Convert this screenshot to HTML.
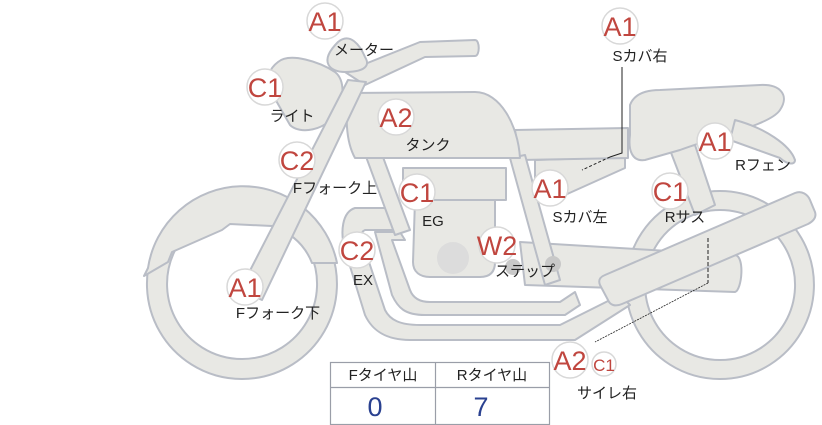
<!DOCTYPE html>
<html><head><meta charset="utf-8"><style>
html,body{margin:0;padding:0;background:#fff;}
svg{display:block;}
.p{fill:#e8e8e4;stroke:#b9bdc6;stroke-width:2;stroke-linejoin:round;}
.b{fill:#fff;stroke:#d8d8d8;stroke-width:1.5;}
.bt{font-family:"Liberation Sans",sans-serif;font-size:27px;fill:#c0463f;text-anchor:middle;}
.l{font-family:"Liberation Sans","Noto Sans CJK JP",sans-serif;font-size:15px;fill:#222;text-anchor:middle;}
</style></head><body>
<svg width="822" height="425" viewBox="0 0 822 425" xmlns="http://www.w3.org/2000/svg">
<!-- front wheel -->
<path class="p" fill-rule="evenodd" d="M242,189 A95,95 0 1 1 241.9,189 Z M242,209 A75,75 0 1 0 242.1,209 Z"/>
<path class="p" d="M144,276 L148,268 A96,96 0 0 1 337,263 L312,263 C305,245 292,233 272,226 L230,224 L222,230 L172,252 L168,262 Z"/>
<!-- rear wheel -->
<path class="p" fill-rule="evenodd" d="M720,191 A94,94 0 1 1 719.9,191 Z M720,210 A75,75 0 1 0 720.1,210 Z"/>
<!-- exhaust pipes -->
<path class="p" d="M355,208 L400,208 L400,230 L365,230 C360,232 360,240 365,250 L385,310 C390,320 400,325 420,325 L560,325 L620,295 L630,305 L575,340 L410,340 C385,340 372,330 365,315 L345,250 C340,232 342,212 355,208 Z"/>
<path class="p" d="M375,232 L400,232 L405,240 L392,240 L410,290 C413,298 420,302 430,302 L560,302 L575,292 L580,305 L565,315 L425,315 C405,315 398,308 392,295 Z"/>
<!-- swingarm -->
<path class="p" d="M520,242 L735,255 C745,256 742,290 735,292 L525,285 Z"/>
<!-- rear frame -->
<path class="p" d="M670,150 L695,145 L715,205 L695,215 Z"/>
<!-- side cover left -->
<path class="p" d="M535,160 L625,157 L625,168 L565,195 L535,198 Z"/>
<!-- side cover right / seat base -->
<path class="p" d="M515,130 L628,128 L628,158 L520,160 Z"/>
<!-- seat -->
<path class="p" d="M630,105 C635,92 650,90 660,90 L760,85 C780,84 790,95 780,110 C770,125 720,135 680,150 L645,160 C632,162 628,150 630,135 Z"/>
<!-- rear fender -->
<path class="p" d="M735,120 C765,128 790,145 795,160 C795,165 788,165 780,158 L730,140 Z"/>
<!-- frame down tube -->
<path class="p" d="M345,100 L360,95 L410,230 L395,235 Z"/>
<path class="p" d="M510,158 L525,155 L560,280 L545,285 Z"/>
<!-- engine -->
<path class="p" d="M415,200 L495,200 L495,262 C495,272 490,277 480,277 L430,277 C420,277 413,272 413,262 Z"/>
<rect class="p" x="403" y="168" width="103" height="32"/>
<circle cx="453" cy="258" r="16" fill="#dcdcdc"/>
<circle cx="513" cy="267" r="8" fill="#c8c8c8"/>
<circle cx="553" cy="264" r="8" fill="#c8c8c8"/>
<!-- tank -->
<path class="p" d="M350,93 L475,92 C500,92 518,125 520,158 L355,158 C345,140 345,110 350,93 Z"/>
<!-- muffler -->
<path class="p" d="M605,275 L795,193 C802,190 808,195 810,200 L815,212 C817,218 812,222 808,224 L622,304 C615,307 610,305 608,300 L600,285 C598,280 600,277 605,275 Z"/>
<!-- handlebar -->
<path class="p" d="M345,72 L420,42 L475,40 C480,40 480,56 475,56 L425,57 L365,85 Z"/>
<!-- meter -->
<path class="p" d="M338,42 C350,32 360,45 365,57 C372,68 360,72 345,72 C330,72 318,62 338,42 Z"/>
<!-- headlight -->
<path class="p" d="M278,62 C290,52 320,62 335,72 C345,80 345,100 335,115 C325,130 300,135 290,125 L270,90 C265,78 270,68 278,62 Z"/>
<!-- fork -->
<path class="p" d="M348,80 L366,82 L262,300 L240,290 Z"/>
<!-- lines -->
<polyline points="622,67 622,153 610,157" fill="none" stroke="#222" stroke-width="1"/>
<line x1="610" y1="157" x2="582" y2="170" stroke="#222" stroke-width="1" stroke-dasharray="3,2"/>
<line x1="708" y1="238" x2="708" y2="283" stroke="#222" stroke-width="1" stroke-dasharray="4,2"/>
<line x1="708" y1="283" x2="595" y2="342" stroke="#222" stroke-width="0.8" stroke-dasharray="2,1"/>
<!-- badges -->
<g>
<circle class="b" cx="325" cy="21" r="18"/><text class="bt" x="325" y="31">A1</text>
<circle class="b" cx="265" cy="87" r="18"/><text class="bt" x="265" y="97">C1</text>
<circle class="b" cx="396" cy="117" r="18"/><text class="bt" x="396" y="127">A2</text>
<circle class="b" cx="297" cy="160" r="18"/><text class="bt" x="297" y="170">C2</text>
<circle class="b" cx="417" cy="192" r="18"/><text class="bt" x="417" y="202">C1</text>
<circle class="b" cx="357" cy="250" r="18"/><text class="bt" x="357" y="260">C2</text>
<circle class="b" cx="245" cy="287" r="18"/><text class="bt" x="245" y="297">A1</text>
<circle class="b" cx="497" cy="245" r="18"/><text class="bt" x="497" y="255">W2</text>
<circle class="b" cx="620" cy="26" r="18"/><text class="bt" x="620" y="36">A1</text>
<circle class="b" cx="550" cy="188" r="18"/><text class="bt" x="550" y="198">A1</text>
<circle class="b" cx="670" cy="191" r="18"/><text class="bt" x="670" y="201">C1</text>
<circle class="b" cx="715" cy="141" r="18"/><text class="bt" x="715" y="151">A1</text>
<circle class="b" cx="570" cy="360" r="18"/><text class="bt" x="570" y="370">A2</text>
<circle class="b" cx="604" cy="364" r="12"/><text class="bt" x="604" y="371" style="font-size:17px">C1</text>
</g>
<!-- labels -->
<text class="l" x="364" y="55">メーター</text>
<text class="l" x="292" y="121">ライト</text>
<text class="l" x="428" y="150">タンク</text>
<text class="l" x="335" y="193">Fフォーク上</text>
<text class="l" x="433" y="226">EG</text>
<text class="l" x="363" y="285">EX</text>
<text class="l" x="278" y="318">Fフォーク下</text>
<text class="l" x="525" y="276">ステップ</text>
<text class="l" x="640" y="61">Sカバ右</text>
<text class="l" x="580" y="222">Sカバ左</text>
<text class="l" x="685" y="222">Rサス</text>
<text class="l" x="763" y="170">Rフェン</text>
<text class="l" x="607" y="398">サイレ右</text>
<!-- table -->
<rect x="330.5" y="362.5" width="219" height="62" fill="#fff" stroke="#9a9ea8" stroke-width="1.2"/>
<line x1="330" y1="387.5" x2="550" y2="387.5" stroke="#9a9ea8" stroke-width="1.2"/>
<line x1="435.5" y1="362" x2="435.5" y2="425" stroke="#9a9ea8" stroke-width="1.2"/>
<text class="l" x="383" y="380">Fタイヤ山</text>
<text class="l" x="492" y="380">Rタイヤ山</text>
<text x="375" y="416" style="font-family:'Liberation Sans',sans-serif;font-size:27px;fill:#2a4190;text-anchor:middle">0</text>
<text x="481" y="416" style="font-family:'Liberation Sans',sans-serif;font-size:27px;fill:#2a4190;text-anchor:middle">7</text>
</svg>
</body></html>
